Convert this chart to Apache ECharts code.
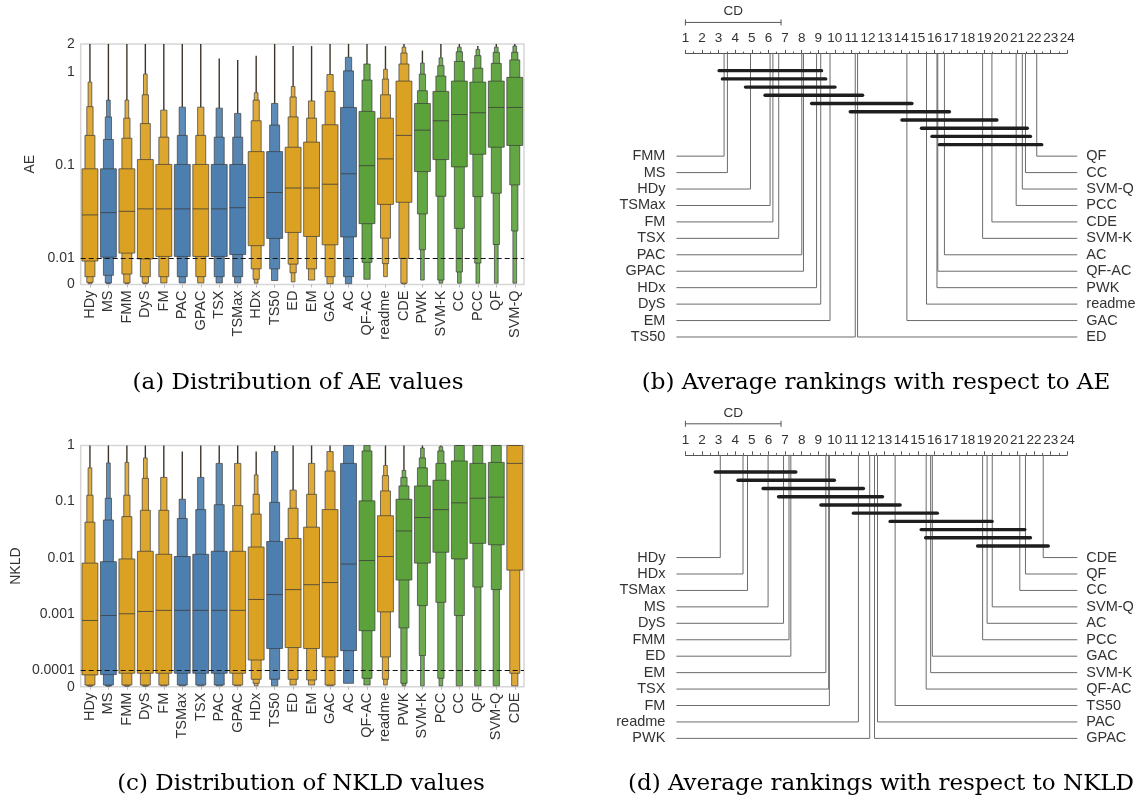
<!DOCTYPE html>
<html><head><meta charset="utf-8">
<script src="https://cdn.jsdelivr.net/npm/echarts@6/dist/echarts.min.js"></script>
<style>html,body{margin:0;padding:0;background:#fff}#c{width:1145px;height:803px}</style>
</head><body><div id="c"></div>
<script>
// ---------- (a) AE letter-value plot ----------
const aeCategories = ['HDy','MS','FMM','DyS','FM','PAC','GPAC','TSX','TSMax','HDx','TS50','ED','EM','GAC','AC','QF-AC','readme','CDE','PWK','SVM-K','CC','PCC','QF','SVM-Q'];
const aeFamily = ['o','b','o','o','o','b','o','b','b','o','b','o','o','o','b','g','o','o','g','g','g','g','g','g'];
const aeMedian = [0.0293,0.031,0.032,0.034,0.034,0.034,0.034,0.034,0.035,0.045,0.051,0.057,0.057,0.0625,0.081,0.099,0.117,0.209,0.238,0.30,0.35,0.366,0.417,0.417];
const aeL1 = [[0.009,0.0915],[0.0103,0.0915],[0.0114,0.0915],[0.0098,0.115],[0.0105,0.102],[0.0105,0.102],[0.0105,0.102],[0.0105,0.102],[0.011,0.102],[0.0137,0.14],[0.0164,0.14],[0.019,0.156],[0.0172,0.177],[0.014,0.272],[0.017,0.417],[0.0236,0.378],[0.038,0.32],[0.04,0.8],[0.0855,0.46],[0.115,0.62],[0.096,0.8],[0.131,0.78],[0.156,0.8],[0.163,0.877]];
const aeL2 = [[0.003,0.209],[0.0035,0.189],[0.004,0.195],[0.003,0.28],[0.003,0.2],[0.003,0.209],[0.003,0.209],[0.003,0.2],[0.003,0.2],[0.006,0.3],[0.006,0.27],[0.0078,0.33],[0.006,0.32],[0.003,0.62],[0.003,1.03],[0.0085,0.82],[0.0165,0.57],[0.01,1.22],[0.03,0.63],[0.0464,0.906],[0.021,1.3],[0.046,1.1],[0.05,1.24],[0.0615,1.35]];
const aeL3 = [[0.0008,0.425],[0.0006,0.33],[0.0006,0.32],[0.0006,0.57],[0.0006,0.39],[0.0006,0.42],[0.0006,0.42],[0.0006,0.41],[0.0006,0.36],[0.002,0.5],[0.0015,0.46],[0.0045,0.54],[0.0017,0.49],[0.0003,0.94],[0.0003,1.44],[0.002,1.22],[0.008,0.84],[0.0005,1.6],[0.0124,0.95],[0.0017,1.17],[0.0048,1.65],[0.0082,1.5],[0.0141,1.63],[0.0197,1.63]];
const aeL4 = [[0.0003,0.78],[0.0003,0.5],[0.0003,0.5],[0.0003,0.95],null,null,null,null,null,[0.0005,0.6],null,[0.001,0.7],null,null,null,null,[0.003,1.07],[0.0002,1.85],[0.0017,1.25],[0.0005,1.42],[0.0005,1.85],[0.0005,1.75],[0.0005,1.85],[0.0005,1.9]];
const aeMax = [2,2,2,2,2,2,2,1.4,1.35,1.5,2,1.9,1.9,2,2,2,1.9,2,1.7,2,2,1.9,2,2];
const aeTicks = [0,0.01,0.1,1,2];
const aeTickLabels = ['0','0.01','0.1','1','2'];
const aeThreshold = 0.01;

// ---------- (c) NKLD letter-value plot ----------
const nkCategories = ['HDy','MS','FMM','DyS','FM','TSMax','TSX','PAC','GPAC','HDx','TS50','ED','EM','GAC','AC','QF-AC','readme','PWK','SVM-K','PCC','CC','QF','SVM-Q','CDE'];
const nkFamily = ['o','b','o','o','o','b','b','b','o','o','b','o','o','o','b','g','o','g','g','g','g','g','g','o'];
const nkMedian = [0.00076,0.00093,0.001,0.0011,0.00115,0.00115,0.00115,0.00115,0.00115,0.0018,0.0022,0.0027,0.0033,0.0036,0.0077,0.0089,0.0105,0.03,0.052,0.072,0.095,0.115,0.12,0.48];
const nkL1 = [[0.00007,0.008],[0.000072,0.0085],[0.00008,0.0095],[0.00008,0.013],[0.00008,0.0115],[0.00008,0.0105],[0.00008,0.0115],[0.00008,0.013],[0.00008,0.013],[0.00015,0.0155],[0.00024,0.0195],[0.00025,0.022],[0.00024,0.035],[0.00017,0.072],[0.00022,0.48],[0.0005,0.103],[0.00108,0.056],[0.004,0.11],[0.008,0.19],[0.0125,0.24],[0.0095,0.53],[0.018,0.48],[0.017,0.5],[0.006,1]];
const nkL2 = [[0.00001,0.043],[0.00001,0.047],[0.00001,0.054],[0.00001,0.07],[0.00001,0.07],[0.00001,0.05],[0.00001,0.072],[0.00001,0.088],[0.00001,0.085],[0.000044,0.06],[0.000044,0.097],[0.000044,0.076],[0.00004,0.135],[0.00001,0.35],[0.00002,1],[0.00005,0.8],[0.00017,0.155],[0.00056,0.19],[0.0014,0.4],[0.0016,0.48],[0.00093,1],[0.003,1],[0.0027,1],[0.00008,1]];
const nkL3 = [[0.000005,0.13],[0.000005,0.115],[0.000005,0.13],[0.000005,0.26],[0.000005,0.27],[0.000005,0.11],[0.000005,0.27],[0.000005,0.48],[0.000005,0.48],[0.00002,0.135],[0.000005,0.78],[0.00001,0.16],[0.00001,0.48],[0.000005,0.78],null,[0.00001,1],[0.000044,0.29],[0.00002,0.27],[0.00018,0.6],[0.00005,0.8],[0.000005,1],[0.000005,1],[0.000005,1],[0.000005,1]];
const nkL4 = [[0.000003,0.4],[0.000003,0.49],[0.000003,0.5],[0.000003,0.6],null,null,null,null,null,[0.000005,0.3],null,null,null,null,null,null,[0.00001,0.44],[0.000005,0.36],[0.000005,0.9],[0.000005,0.95],null,null,null,null];
const nkMax = [1,1,1,1,1,0.78,1,1,1,0.78,1,1,1,1,1,1,1,1,1,1,1,1,1,1];
const nkTicks = [0,0.0001,0.001,0.01,0.1,1];
const nkTickLabels = ['0','0.0001','0.001','0.01','0.1','1'];
const nkThreshold = 0.0001;

// ---------- (b) AE average ranks ----------
const aeRankNames = ['FMM','MS','HDy','TSMax','FM','TSX','PAC','GPAC','HDx','DyS','EM','TS50','ED','GAC','readme','PWK','QF-AC','AC','SVM-K','CDE','PCC','SVM-Q','CC','QF'];
const aeRanks = [3.33,3.53,4.92,6.10,6.27,6.62,8.01,8.11,8.90,9.15,9.71,11.23,11.37,14.34,15.52,16.15,16.20,16.60,18.90,19.46,20.92,21.29,21.48,22.16];
const aeCliques = [[0,8],[1,9],[2,10],[3,12],[8,13],[11,17],[13,19],[14,21],[15,22],[17,23]];
const aeCD = 5.76;

// ---------- (d) NKLD average ranks ----------
const nkRankNames = ['HDy','HDx','TSMax','MS','DyS','FMM','ED','EM','TSX','FM','readme','PWK','GPAC','PAC','TS50','QF-AC','SVM-K','GAC','PCC','AC','SVM-Q','CC','QF','CDE'];
const nkRanks = [3.10,4.47,4.74,5.98,6.91,7.24,7.35,9.46,9.63,9.67,11.42,12.10,12.39,12.57,13.63,15.50,15.77,15.87,18.90,19.17,19.48,21.14,21.48,22.55];
const nkCliques = [[0,6],[1,9],[3,10],[4,13],[7,14],[10,17],[14,19],[15,21],[16,22],[18,23]];
const nkCD = 5.76;

const captions = ['(a) Distribution of AE values','(b) Average rankings with respect to AE','(c) Distribution of NKLD values','(d) Average rankings with respect to NKLD'];

// ---------- helpers ----------
function symlog(thr, lin){ return v => v >= thr ? lin + Math.log10(v/thr) : lin * v / thr; }
const tA = symlog(aeThreshold, 0.28), tC = symlog(nkThreshold, 0.30);
const palette = {o:'#DBA123', b:'#4C7FAF', g:'#5BA23A'};
function lighten(hex, f){
  const n = parseInt(hex.slice(1),16);
  const r = n>>16, g = (n>>8)&255, b = n&255;
  const m = c => Math.round(c + (255-c)*f);
  return 'rgb(' + m(r) + ',' + m(g) + ',' + m(b) + ')';
}
const FONT = 'Liberation Sans, Arial, sans-serif';
const LABEL_SIZE = 14.5;
const levelWidths = [0.86, 0.54, 0.34, 0.2];

function boxenRender(levels, med, maxv, fam, t){
  return function(params, api){
    const i = params.dataIndex;
    const cx = api.coord([i, 0])[0];
    const band = api.size([1, 0])[0];
    const lv = levels.map(a => a[i]);
    const children = [];
    let topHi = 0;
    lv.forEach(l => { if (l && l[1] > topHi) topHi = l[1]; });
    if (maxv[i] > topHi) {
      const y1 = api.coord([i, t(topHi)])[1], y2 = api.coord([i, t(maxv[i])])[1];
      children.push({type:'line', shape:{x1:cx, y1:y1, x2:cx, y2:y2}, style:{stroke:'#3d3528', lineWidth:1.4}});
    }
    for (let k = lv.length - 1; k >= 0; k--) {
      const l = lv[k]; if (!l) continue;
      const w = band * levelWidths[k];
      const yTop = api.coord([i, t(l[1])])[1], yBot = api.coord([i, t(l[0])])[1];
      children.push({type:'rect', shape:{x:cx - w/2, y:yTop, width:w, height:yBot - yTop},
        style:{fill: lighten(palette[fam[i]], k*0.05), stroke:'rgba(60,60,60,0.7)', lineWidth:1}});
    }
    const wm = band * levelWidths[0];
    const ym = api.coord([i, t(med[i])])[1];
    children.push({type:'line', shape:{x1:cx - wm/2, y1:ym, x2:cx + wm/2, y2:ym}, style:{stroke:'rgba(60,60,60,0.8)', lineWidth:1}});
    return {type:'group', children:children};
  };
}

function cdMethodRender(ranks, names){
  const n = ranks.length, half = n / 2;
  return function(params, api){
    const i = params.dataIndex;
    const left = i < half;
    const row = left ? i : (n - 1 - i);
    const p0 = api.coord([ranks[i], 0]);
    const p1 = api.coord([ranks[i], 12.5 + 2*row]);
    const cs = params.coordSys;
    const ex = left ? cs.x - 9 : cs.x + cs.width + 10;
    return {type:'group', children:[
      {type:'polyline', shape:{points:[p0, p1, [ex, p1[1]]]}, style:{stroke:'#6b6b6b', lineWidth:1, fill:null}},
      {type:'text', style:{text:names[i], x: left ? ex - 11 : ex + 9, y: p1[1], align: left ? 'right' : 'left',
        verticalAlign:'middle', fill:'#333', fontSize:LABEL_SIZE, fontFamily:FONT}}
    ]};
  };
}

function cliqueRender(ranks, cliques){
  return function(params, api){
    const j = params.dataIndex;
    const y = 2.1 + j;
    const a = api.coord([ranks[cliques[j][0]], y]);
    const b = api.coord([ranks[cliques[j][1]], y]);
    return {type:'line', shape:{x1:a[0] - 5, y1:a[1], x2:b[0] + 5, y2:b[1]},
      style:{stroke:'#1e1e1e', lineWidth:3.4, lineCap:'round'}};
  };
}

function cdBarRender(cd){
  return function(params, api){
    const a = api.coord([1, -3.77]);
    const b = api.coord([1 + cd, -3.77]);
    return {type:'group', children:[
      {type:'line', shape:{x1:a[0], y1:a[1], x2:b[0], y2:b[1]}, style:{stroke:'#555', lineWidth:1}},
      {type:'line', shape:{x1:a[0], y1:a[1]-3, x2:a[0], y2:a[1]+3}, style:{stroke:'#555', lineWidth:1}},
      {type:'line', shape:{x1:b[0], y1:b[1]-3, x2:b[0], y2:b[1]+3}, style:{stroke:'#555', lineWidth:1}},
      {type:'text', style:{text:'CD', x:(a[0]+b[0])/2, y:a[1]-11, align:'center', verticalAlign:'middle', fill:'#333', fontSize:13.5, fontFamily:FONT}}
    ]};
  };
}

function boxGrid(top, height){
  return {left:80.7, top:top, width:443.3, height:height, show:true, borderColor:'#d6d6d6', borderWidth:1.5,
    backgroundColor:'#fff', containLabel:false, outerBoundsMode:'none'};
}
function cdGrid(top){
  return {left:685.4, top:top, width:381.9, height:36*8.22, show:false, containLabel:false, outerBoundsMode:'none'};
}
function catAxis(cats, gi){
  return {type:'category', gridIndex:gi, data:cats, boundaryGap:true,
    axisLine:{show:false}, axisTick:{show:true, alignWithLabel:true, length:3, lineStyle:{color:'#bbb'}},
    axisLabel:{rotate:90, fontSize:LABEL_SIZE, color:'#333', fontFamily:FONT, margin:6, interval:0}, splitLine:{show:false}};
}
function symAxis(gi, ticks, labels, t, name, gap){
  const vals = ticks.map(t);
  return {type:'value', gridIndex:gi, min:0, max:t(ticks[ticks.length-1]), name:name, nameLocation:'middle', nameGap:gap,
    nameTextStyle:{fontSize:14, color:'#333', fontFamily:FONT},
    axisLine:{show:false}, axisTick:{show:false}, splitLine:{show:false},
    axisLabel:{customValues:vals, showMinLabel:true, showMaxLabel:true, fontSize:14, color:'#333', fontFamily:FONT, margin:6,
      formatter: v => { const k = vals.findIndex(x => Math.abs(x - v) < 1e-6); return k >= 0 ? labels[k] : ''; }}};
}
function rankAxis(gi){
  return {type:'value', gridIndex:gi, min:1, max:24, interval:1, position:'top',
    axisLine:{show:true, lineStyle:{color:'#555', width:1}},
    axisTick:{show:true, length:3.5, lineStyle:{color:'#555'}},
    minorTick:{show:true, splitNumber:2, length:1.8, lineStyle:{color:'#555'}},
    axisLabel:{fontSize:13.5, color:'#333', fontFamily:FONT, margin:8},
    splitLine:{show:false}, minorSplitLine:{show:false}};
}
function rowAxis(gi){ return {type:'value', gridIndex:gi, min:0, max:36, inverse:true, show:false}; }

function boxSeries(xi, cats, levels, med, maxv, fam, t, thr){
  return {type:'custom', xAxisIndex:xi, yAxisIndex:xi, clip:false,
    data: cats.map((c, i) => [i, t(med[i])]),
    encode:{x:0, y:1},
    renderItem: boxenRender(levels, med, maxv, fam, t),
    markLine:{silent:true, symbol:['none','none'], label:{show:false},
      lineStyle:{type:[5,3], color:'#111', width:1.2}, data:[{yAxis:t(thr)}]}};
}

const capStyle = {align:'center', verticalAlign:'middle', fill:'#000', fontSize:23, fontFamily:'DejaVu Serif'};
const chart = echarts.init(document.getElementById('c'), null, {renderer:'canvas'});
chart.setOption({
  animation:false,
  backgroundColor:'#fff',
  grid:[boxGrid(44, 240.5), boxGrid(445.5, 241.2), cdGrid(53.4), cdGrid(454.8)],
  xAxis:[catAxis(aeCategories, 0), catAxis(nkCategories, 1), rankAxis(2), rankAxis(3)],
  yAxis:[symAxis(0, aeTicks, aeTickLabels, tA, 'AE', 44), symAxis(1, nkTicks, nkTickLabels, tC, 'NKLD', 58), rowAxis(2), rowAxis(3)],
  series:[
    boxSeries(0, aeCategories, [aeL1, aeL2, aeL3, aeL4], aeMedian, aeMax, aeFamily, tA, aeThreshold),
    boxSeries(1, nkCategories, [nkL1, nkL2, nkL3, nkL4], nkMedian, nkMax, nkFamily, tC, nkThreshold),
    {type:'custom', xAxisIndex:2, yAxisIndex:2, clip:false, data:aeRanks.map(r => [r, 0]), encode:{x:0, y:1}, renderItem:cdMethodRender(aeRanks, aeRankNames)},
    {type:'custom', xAxisIndex:2, yAxisIndex:2, clip:false, data:aeCliques.map(c => [aeRanks[c[0]], 0]), encode:{x:0, y:1}, renderItem:cliqueRender(aeRanks, aeCliques), z:5},
    {type:'custom', xAxisIndex:2, yAxisIndex:2, clip:false, data:[[1, 0]], encode:{x:0, y:1}, renderItem:cdBarRender(aeCD)},
    {type:'custom', xAxisIndex:3, yAxisIndex:3, clip:false, data:nkRanks.map(r => [r, 0]), encode:{x:0, y:1}, renderItem:cdMethodRender(nkRanks, nkRankNames)},
    {type:'custom', xAxisIndex:3, yAxisIndex:3, clip:false, data:nkCliques.map(c => [nkRanks[c[0]], 0]), encode:{x:0, y:1}, renderItem:cliqueRender(nkRanks, nkCliques), z:5},
    {type:'custom', xAxisIndex:3, yAxisIndex:3, clip:false, data:[[1, 0]], encode:{x:0, y:1}, renderItem:cdBarRender(nkCD)}
  ],
  graphic:[
    {type:'text', x:298, y:383, style:Object.assign({text:captions[0]}, capStyle)},
    {type:'text', x:876, y:383, style:Object.assign({text:captions[1]}, capStyle)},
    {type:'text', x:301, y:784, style:Object.assign({text:captions[2]}, capStyle)},
    {type:'text', x:881, y:784, style:Object.assign({text:captions[3]}, capStyle)}
  ]
});
</script></body></html>
